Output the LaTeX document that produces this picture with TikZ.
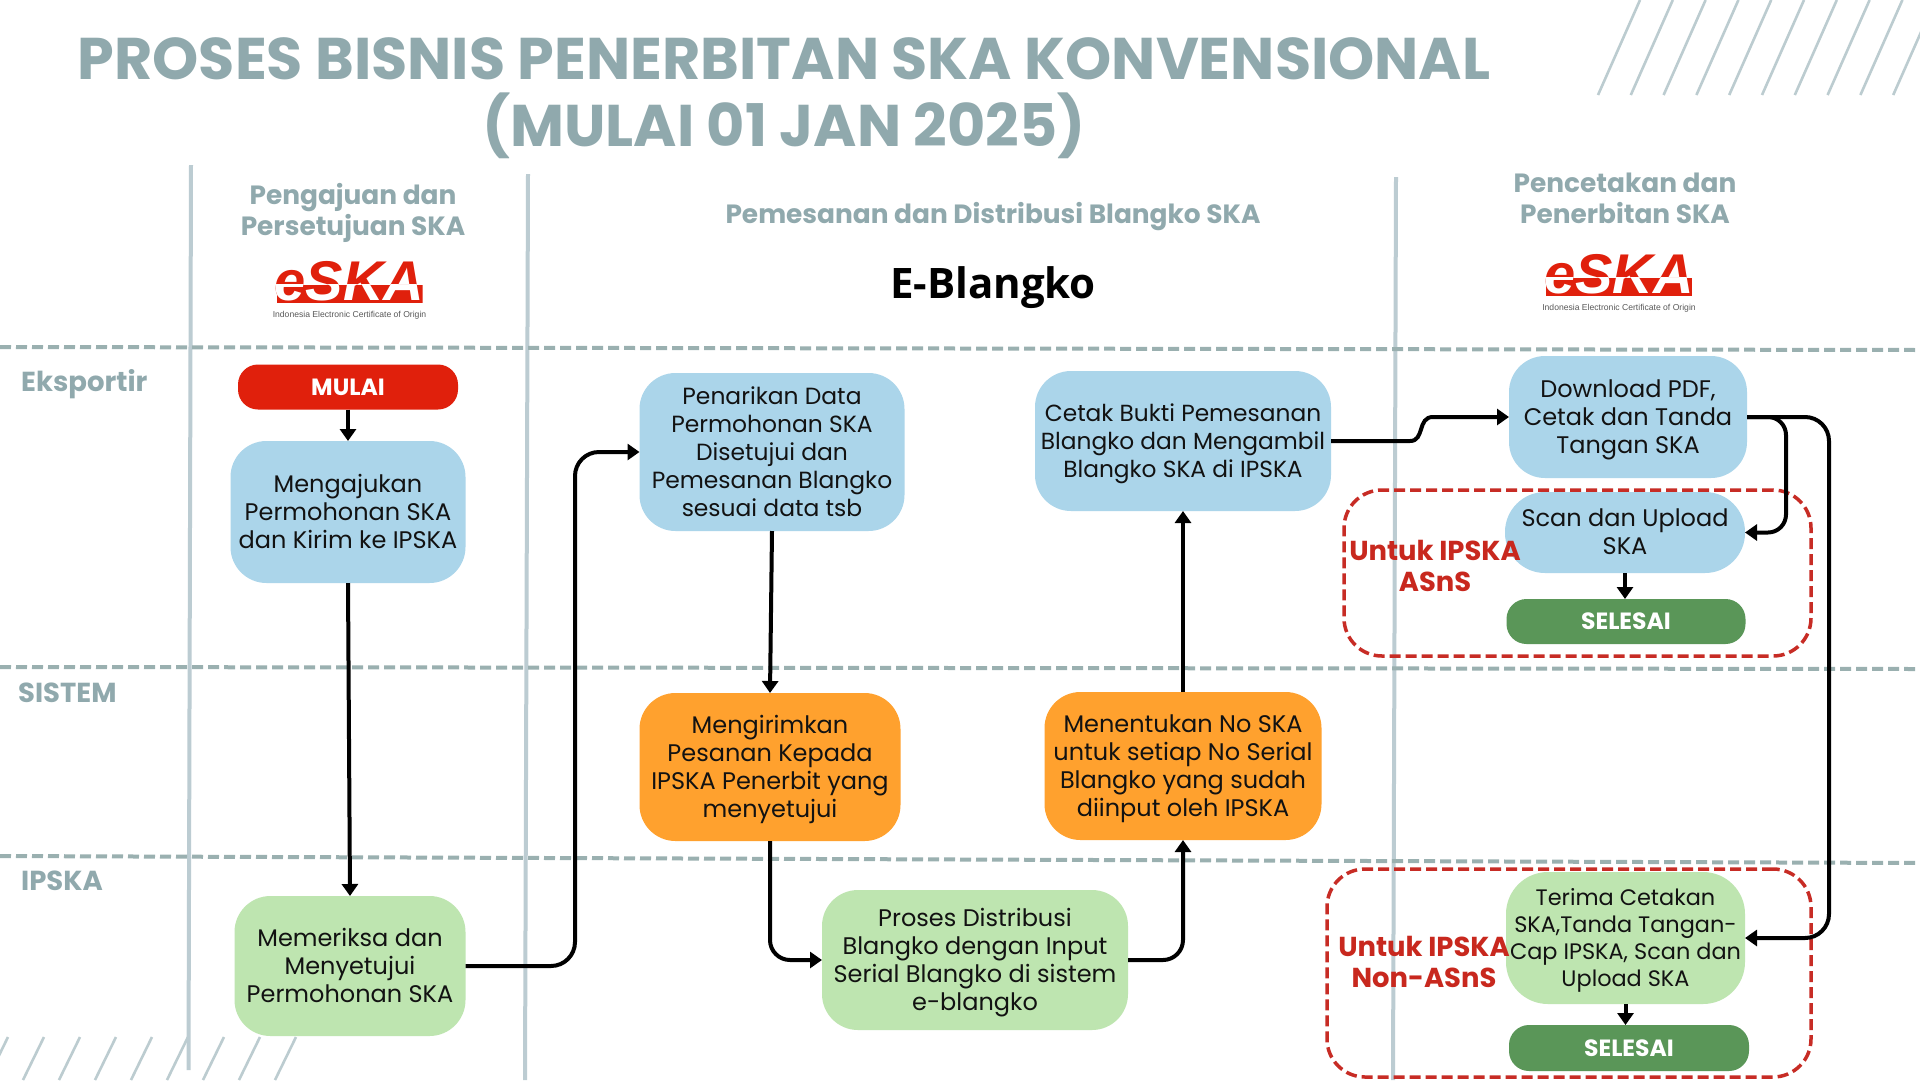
\documentclass[tikz,border=0pt]{standalone}
\usepackage{fontspec}
\usetikzlibrary{arrows.meta}
\setmainfont{Poppins}
\newcommand{\semi}{\bfseries}
\newfontfamily\eblang[BoldFont={Open Sans Bold}]{Open Sans}
\newfontfamily\logofont[ItalicFont={Liberation Sans Bold Italic}]{Liberation Sans Bold Italic}
\newfontfamily\capfont{Liberation Sans}
\newcommand{\sta}{\rule{0pt}{22.5pt}}
\newcommand{\stb}{\rule[-6pt]{0pt}{6pt}}
\definecolor{cgrey}{HTML}{90A9AD}
\definecolor{cvert}{HTML}{BCCCD2}
\definecolor{cdash}{HTML}{9AB0B0}
\definecolor{cblue}{HTML}{ABD5EA}
\definecolor{cgreen}{HTML}{BEE5B0}
\definecolor{corange}{HTML}{FFA12E}
\definecolor{cred}{HTML}{E0200C}
\definecolor{cdgreen}{HTML}{5A9658}
\definecolor{crtext}{HTML}{C8281E}
\definecolor{crdash}{HTML}{C72C25}
\definecolor{chatch}{HTML}{BCCCD0}
\tikzset{
  boxbase/.style={rectangle,inner sep=0pt,outer sep=0pt,align=center,text=black!93,
    font=\fontsize{24}{28}\selectfont,rounded corners=#1},
  boxbase/.default=36pt,
  pill/.style={rectangle,inner sep=0pt,outer sep=0pt,align=center,text=white,
    font=\semi\fontsize{23.5}{25}\selectfont,rounded corners=20pt},
  group/.style={draw=crdash,line width=3.5pt,dash pattern=on 11pt off 5pt,rectangle,
    rounded corners=38pt,inner sep=0pt,outer sep=0pt},
  arr/.style={draw=black,line width=4pt,-{Triangle[length=12pt,width=16pt]}},
  vline/.style={draw=cvert,line width=4pt},
  hline/.style={draw=cdash,line width=4pt,dash pattern=on 11pt off 5pt},
  hatch/.style={draw=chatch,line width=2.6pt},
  head/.style={align=center,text=cgrey,inner sep=0pt,font=\semi\fontsize{26.4}{31}\selectfont},
  lane/.style={anchor=west,text=cgrey,inner sep=0pt,font=\semi\fontsize{27.5}{30}\selectfont},
  redlabel/.style={align=center,text=crtext,inner sep=0pt,font=\semi\fontsize{27.4}{31}\selectfont},
  logotext/.style={inner sep=0pt,font=\logofont\fontsize{56}{56}\selectfont}
}
\newcommand{\eskalogo}[3]{%
  \begin{scope}[shift={(#1,#2)}]
    \node[logotext,text=cred] (#3a) at (0,0) {eSKA};
    \begin{scope}
      \clip (-73,3) rectangle (73,21);
      \fill[cred] (-73,3) rectangle (73,21);
      \node[logotext,text=white] (#3b) at (0,0) {eSKA};
    \end{scope}
    \node[inner sep=0pt,text=black!65,font=\capfont\fontsize{8.6}{11}\selectfont] (#3c) at (0,34) {Indonesia Electronic Certificate of Origin};
  \end{scope}}
\begin{document}
\begin{tikzpicture}[x=1pt,y=-1pt]
\useasboundingbox (0,0) rectangle (1920,1080);
\fill[white] (0,0) rectangle (1920,1080);
\clip (0,0) rectangle (1920,1080);
% hatching
\foreach \i in {0,...,9} \draw[hatch] ({1598+32.8*\i},95) -- ({1640+32.8*\i},0);
\foreach \i in {0,...,8} \draw[hatch] ({8+36*\i},1037) -- ({-13+36*\i},1080);
% lanes
\draw[vline] (191,165) -- (188.5,1070);
\draw[vline] (528,174) -- (525,1080);
\draw[vline] (1396,177) -- (1393,1080);
\draw[hline] (0,347) -- (1920,350);
\draw[hline] (0,667) -- (1920,669);
\draw[hline] (0,856) -- (1920,863);
% title
\node[inner sep=0pt,text=cgrey,align=center,font=\semi\fontsize{58.8}{67}\selectfont] (title) at (784,98.5)
  {PROSES BISNIS PENERBITAN SKA KONVENSIONAL\\(MULAI 01 JAN 2025)};
% headers
\node[head] (h1) at (353,212.5) {Pengajuan dan\\Persetujuan SKA};
\node[head] (h2) at (993,217) {Pemesanan dan Distribusi Blangko SKA};
\node[head] (h3) at (1625,198) {Pencetakan dan\\Penerbitan SKA};
\node[inner sep=0pt,text=black,font=\eblang\bfseries\fontsize{42}{44}\selectfont] (eb) at (993,288) {E-Blangko};
\eskalogo{349.5}{281.5}{logoa}
\eskalogo{1619}{274.5}{logob}
% lane labels
\node[lane] (l1) at (21,384) {Eksportir};
\node[lane] (l2) at (18,693) {SISTEM};
\node[lane] (l3) at (21,881) {IPSKA};
% groups
\node[group,minimum width=467pt,minimum height=166pt] (ga) at (1577.5,573) {};
\node[group,minimum width=484pt,minimum height=208pt] (gb) at (1569,973) {};
% boxes
\node[pill,fill=cred,minimum width=220pt,minimum height=45pt] (mulai) at (348,387) {MULAI};
\node[boxbase,fill=cblue,minimum width=235pt,minimum height=142pt] (ajukan) at (348,512) {\sta Mengajukan\\Permohonan SKA\\\stb dan Kirim ke IPSKA};
\node[boxbase,fill=cgreen,minimum width=231pt,minimum height=140pt] (periksa) at (350,966) {\sta Memeriksa dan\\Menyetujui\\\stb Permohonan SKA};
\node[boxbase,fill=cblue,minimum width=265pt,minimum height=158pt,font=\fontsize{23.4}{28}\selectfont] (tarik) at (772,452) {\sta Penarikan Data\\Permohonan SKA\\Disetujui dan\\Pemesanan Blangko\\\stb sesuai data tsb};
\node[boxbase,fill=corange,minimum width=261pt,minimum height=148pt] (kirim) at (770,767) {\sta Mengirimkan\\Pesanan Kepada\\IPSKA Penerbit yang\\\stb menyetujui};
\node[boxbase,fill=cgreen,minimum width=306pt,minimum height=140pt] (distri) at (975,960) {\sta Proses Distribusi\\Blangko dengan Input\\Serial Blangko di sistem\\\stb e-blangko};
\node[boxbase,fill=corange,minimum width=277pt,minimum height=148pt] (tentu) at (1183,766) {\sta Menentukan No SKA\\untuk setiap No Serial\\Blangko yang sudah\\\stb diinput oleh IPSKA};
\node[boxbase,fill=cblue,minimum width=296pt,minimum height=140pt,font=\fontsize{23.3}{28}\selectfont] (cetak) at (1183,441) {\sta Cetak Bukti Pemesanan\\Blangko dan Mengambil\\\stb Blangko SKA di IPSKA};
\node[boxbase,fill=cblue,minimum width=238pt,minimum height=122pt] (unduh) at (1628,417) {\sta Download PDF,\\Cetak dan Tanda\\\stb Tangan SKA};
\node[boxbase=40pt,fill=cblue,minimum width=240pt,minimum height=81pt] (scan) at (1625,532.5) {\sta Scan dan Upload\\\stb SKA};
\node[pill,fill=cdgreen,minimum width=239pt,minimum height=45pt] (sela) at (1626,621.5) {SELESAI};
\node[boxbase=42pt,fill=cgreen,minimum width=239pt,minimum height=132pt,font=\fontsize{22.4}{27}\selectfont] (terima) at (1625.5,938) {\sta Terima Cetakan\\SKA,Tanda Tangan-\\Cap IPSKA, Scan dan\\\stb Upload SKA};
\node[pill,fill=cdgreen,minimum width=240pt,minimum height=46pt] (selb) at (1629,1048) {SELESAI};
% red labels
\node[redlabel] (ra) at (1435,565.5) {Untuk IPSKA\\ASnS};
\node[redlabel] (rb) at (1424,962) {Untuk IPSKA\\Non-ASnS};
% connector helpers
\coordinate (c1) at (575,0);
\coordinate (c2) at (1786,0);
\coordinate (c3) at (1829,0);
\coordinate (s1) at (1410,441);
\coordinate (s2) at (1433,417);
% connectors
\draw[arr] (mulai.south) -- (ajukan.north);
\draw[arr] (ajukan.south) -- (periksa.north);
\draw[arr,rounded corners=24pt] (periksa.east) -- (periksa.east -| c1) -- (tarik.west -| c1) -- (tarik.west);
\draw[arr] (tarik.south) -- (kirim.north);
\draw[arr,rounded corners=20pt] (kirim.south) |- (distri.west);
\draw[arr,rounded corners=20pt] (distri.east) -| (tentu.south);
\draw[arr] (tentu.north) -- (cetak.south);
\draw[arr] (cetak.east) -- (s1) .. controls (1425,441) and (1417,417) .. (s2) -- (unduh.west);
\draw[arr,rounded corners=18pt] (unduh.east) -- (unduh.east -| c2) -- (scan.east -| c2) -- (scan.east);
\draw[arr,rounded corners=24pt] (unduh.east) -- (unduh.east -| c3) -- (terima.east -| c3) -- (terima.east);
\draw[arr] (scan.south) -- (scan.south |- sela.north);
\draw[arr] (terima.south) -- (terima.south |- selb.north);
\end{tikzpicture}
\end{document}
